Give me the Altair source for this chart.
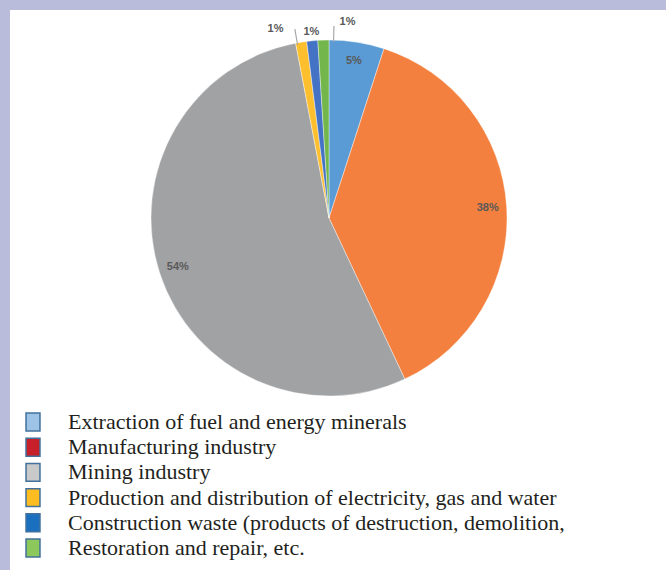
import math
import altair as alt
import pandas as pd

# ---------------- data ----------------
categories = [
    "Extraction of fuel and energy minerals",
    "Manufacturing industry",
    "Mining industry",
    "Production and distribution of electricity, gas and water",
    "Construction waste (products of destruction, demolition,",
    "Restoration and repair, etc.",
]
shares = [5, 38, 54, 1, 1, 1]
slice_labels = ["5%", "38%", "54%", "1%", "1%", "1%"]
pie_colors = ["#5b9bd5", "#f3803e", "#a1a2a4", "#fdbf2d", "#4472c4", "#72b64c"]
legend_colors = ["#9dc3e6", "#c8202a", "#c9c9c9", "#fdbd21", "#1a70bf", "#8cc95a"]

# ---------------- layout (styles / nudges) ----------------
label_radius = [159, 159, 159, 196, 187, 197]
label_nudge = [0, 0, 0, -1.9, 0, 2.0]          # in percent of the turn
leader_nudge = [None, None, None, -0.4, None, 0.86]
CX, CY = 319, 208
PIE_R = 178

df = pd.DataFrame({
    "category": categories,
    "share": shares,
    "label": slice_labels,
    "pie_color": pie_colors,
    "legend_color": legend_colors,
    "order": list(range(len(categories))),
})
cum = df["share"].cumsum()
mid = cum - df["share"] / 2
df["label_pos"] = mid + pd.Series(label_nudge)
df["label_r"] = label_radius

lead_rows = []
for i, n in enumerate(leader_nudge):
    if n is not None:
        a = mid[i] + n
        lead_rows.append({"a": a, "b": a + 0.1, "r_in": PIE_R - 2, "r_out": PIE_R + 14})
df_lead = pd.DataFrame(lead_rows)

theta_scale = alt.Scale(domain=[0, 100], range=[0, 2 * math.pi])

pie = alt.Chart(df).mark_arc(radius=PIE_R, stroke="white", strokeWidth=0.4).encode(
    theta=alt.Theta("share:Q", stack=True, scale=theta_scale),
    order=alt.Order("order:Q"),
    color=alt.Color("pie_color:N", scale=None),
    x=alt.value(CX),
    y=alt.value(CY),
)

leaders = alt.Chart(df_lead).mark_arc(color="#a6a6a6").encode(
    theta=alt.Theta("a:Q", scale=theta_scale),
    theta2="b:Q",
    radius=alt.Radius("r_out:Q", scale=None),
    radius2="r_in:Q",
    x=alt.value(CX),
    y=alt.value(CY),
)

labels = alt.Chart(df).mark_text(
    font="Liberation Sans", fontSize=11, fontWeight="bold", color="#595959"
).encode(
    theta=alt.Theta("label_pos:Q", scale=theta_scale),
    radius=alt.Radius("label_r:Q", scale=None),
    text="label:N",
    x=alt.value(CX),
    y=alt.value(CY),
)

leg_y = alt.Y(
    "category:N",
    scale=alt.Scale(type="point", domain=categories, range=[412, 538], padding=0),
    axis=None,
)

leg_sq = alt.Chart(df).mark_point(
    shape="M-0.78,-1L0.78,-1L0.78,1L-0.78,1Z",
    size=320, filled=True, stroke="#41719c", strokeWidth=1.5, opacity=1,
).encode(
    x=alt.value(23),
    y=leg_y,
    fill=alt.Fill("legend_color:N", scale=None),
)

leg_txt = alt.Chart(df).mark_text(
    align="left", baseline="middle", font="Liberation Serif", fontSize=22, color="#231f20"
).encode(
    x=alt.value(58),
    y=leg_y,
    text="category:N",
)

chart = alt.layer(pie, leaders, labels, leg_sq, leg_txt).properties(
    width=656,
    height=560,
    padding={"left": 10, "top": 10, "right": 0, "bottom": 0},
    autosize=alt.AutoSizeParams(type="none"),
    background="#b9bcdb",
).configure_view(fill="white", strokeWidth=0)

chart.save("out.html", embed_options={"renderer": "svg", "actions": False})
